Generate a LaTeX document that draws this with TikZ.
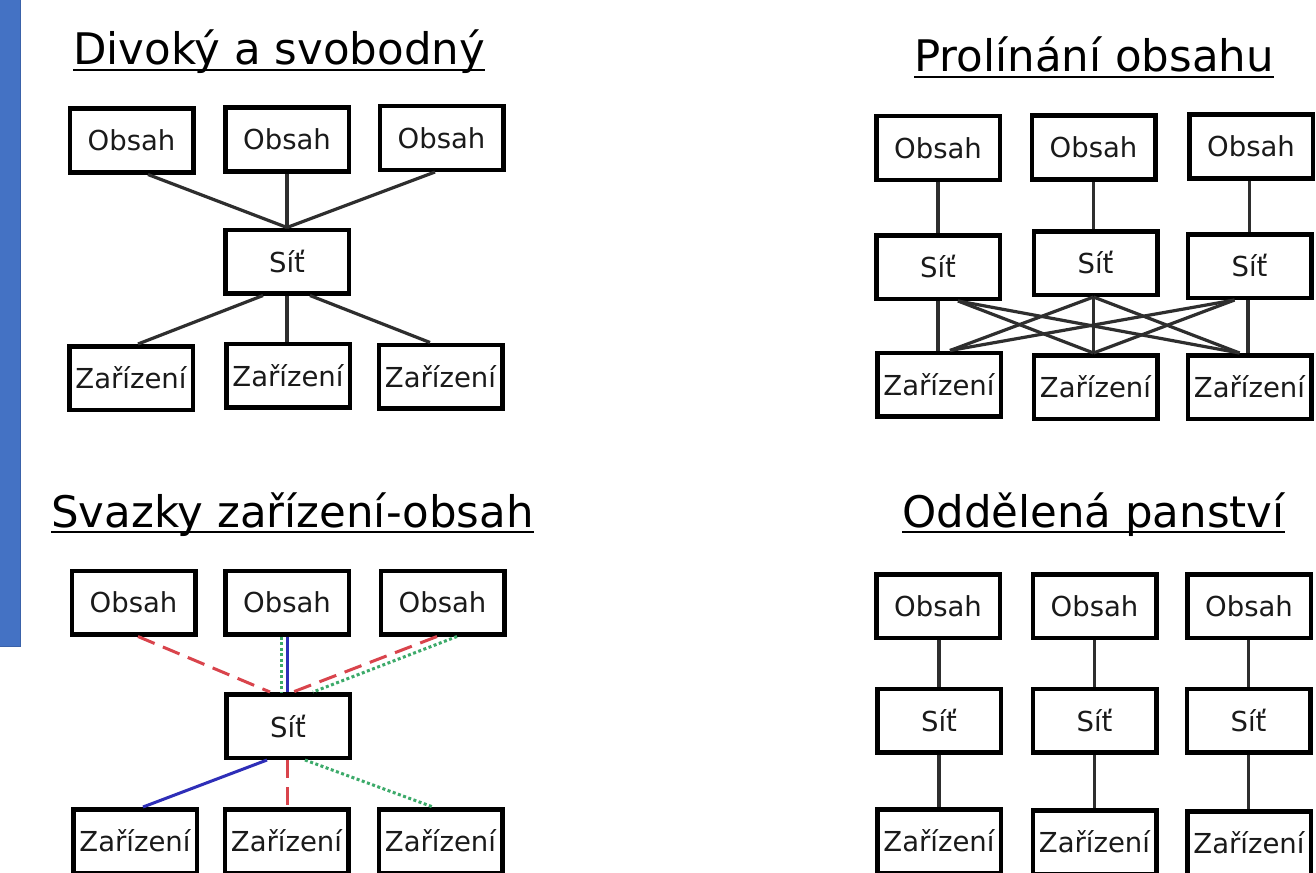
\documentclass[tikz,border=0pt]{standalone}
\usepackage{fontspec}
\newfontfamily\dvsans{DejaVu Sans}
\usetikzlibrary{calc}
\definecolor{barblue}{HTML}{4472C4}
\definecolor{baredge}{HTML}{3A62AA}
\definecolor{ink}{HTML}{1A1A1A}
\definecolor{wire}{HTML}{2E2E2E}
\definecolor{wirered}{HTML}{D9444C}
\definecolor{wireblue}{HTML}{2E2EB8}
\definecolor{wiregreen}{HTML}{3CAA6A}
\newcommand\bxfont{\dvsans\fontsize{27.5}{32}\selectfont}
\newcommand\ttlfont{\dvsans\fontsize{43.5}{50}\selectfont}
\begin{document}
\begin{tikzpicture}[x=1pt,y=-1pt,
  box/.style={draw=black, line width=4.5pt, fill=white, minimum width=123.5pt,
    minimum height=63.5pt, inner sep=0pt, font=\bxfont, text=ink},
  link/.style={draw=wire, line width=3.2pt},
  redlink/.style={draw=wirered, line width=3pt, dash pattern=on 18pt off 9pt},
  bluelink/.style={draw=wireblue, line width=3pt},
  greenlink/.style={draw=wiregreen, line width=3pt, dash pattern=on 3pt off 2.5pt},
  ttl/.style={font=\ttlfont, text=black, anchor=base west, inner sep=0pt},
  uline/.style={draw=black, line width=2.5pt}]

\clip (0,0) rectangle (1316,872);
\fill[white] (0,0) rectangle (1316,872);

% side bar
\fill[barblue] (0,0) rectangle (21,647);
\draw[baredge, line width=1.5pt] (20.25,0) -- (20.25,646.25) -- (0,646.25);

% titles
\node[ttl] (t-a) at (73,65) {Divoký a svobodný};
\node[ttl] (t-b) at (914,72) {Prolínání obsahu};
\node[ttl] (t-c) at (51,527) {Svazky zařízení-obsah};
\node[ttl] (t-d) at (902,527) {Oddělená panství};
\foreach \t in {t-a,t-b,t-c,t-d}
  \draw[uline] ([yshift=-5pt]\t.base west) -- ([yshift=-5pt]\t.base east);

% ---- Divoký a svobodný ----
\node[box] (a-o1) at (131.5,140.5) {Obsah};
\node[box] (a-o2) at (287,139.5) {Obsah};
\node[box] (a-o3) at (441.5,138) {Obsah};
\node[box] (a-s)  at (287,261.5) {Síť};
\node[box] (a-z1) at (131,378) {Zařízení};
\node[box] (a-z2) at (288,375.5) {Zařízení};
\node[box] (a-z3) at (440.5,376.5) {Zařízení};
\draw[link] ([xshift=16.5pt]a-o1.south) -- (a-s.north);
\draw[link] (a-o2.south) -- (a-s.north);
\draw[link] ([xshift=-6.5pt]a-o3.south) -- (a-s.north);
\draw[link] ([xshift=-24pt]a-s.south) -- ([xshift=7pt]a-z1.north);
\draw[link] (a-s.south) -- (a-s.south |- a-z2.north);
\draw[link] ([xshift=23pt]a-s.south) -- ([xshift=-10.5pt]a-z3.north);

% ---- Prolínání obsahu ----
\node[box] (b-o1) at (938,148) {Obsah};
\node[box] (b-o2) at (1093.5,147.5) {Obsah};
\node[box] (b-o3) at (1251,146.5) {Obsah};
\node[box] (b-s1) at (938,267) {Síť};
\node[box] (b-s2) at (1095.5,263) {Síť};
\node[box] (b-s3) at (1249.5,266) {Síť};
\node[box] (b-z1) at (939,384.5) {Zařízení};
\node[box] (b-z2) at (1095.5,387) {Zařízení};
\node[box] (b-z3) at (1249.5,387) {Zařízení};
\draw[link] (b-o1.south) -- (b-s1.north);
\draw[link] (b-o2.south) -- (b-o2.south |- b-s2.north);
\draw[link] (b-o3.south -| b-s3) -- (b-s3.north);
\draw[link] (b-s1.south) -- (b-s1.south |- b-z1.north);
\draw[link] ([xshift=-2pt]b-s2.south) -- ([xshift=-2pt]b-s2.south |- b-z2.north);
\draw[link] ([xshift=-1.5pt]b-s3.south) -- ([xshift=-1.5pt]b-s3.south |- b-z3.north);
\coordinate (bA) at ([xshift=20pt]b-s1.south);
\coordinate (bB) at ([xshift=-2pt]b-s2.south);
\coordinate (bC) at ([xshift=-15pt]b-s3.south);
\coordinate (bD) at ([xshift=11pt]b-z1.north);
\coordinate (bE) at ([xshift=-2pt]b-z2.north);
\coordinate (bF) at ([xshift=-10pt]b-z3.north);
\draw[link] (bA) -- (bE);
\draw[link] (bA) -- (bF);
\draw[link] (bB) -- (bD);
\draw[link] (bB) -- (bF);
\draw[link] (bC) -- (bD);
\draw[link] (bC) -- (bE);

% ---- Svazky zařízení-obsah ----
\node[box] (c-o1) at (133.5,602.5) {Obsah};
\node[box] (c-o2) at (287,602.5) {Obsah};
\node[box] (c-o3) at (442.5,602.5) {Obsah};
\node[box] (c-s)  at (288,726) {Síť};
\node[box] (c-z1) at (135,841) {Zařízení};
\node[box] (c-z2) at (286.5,841) {Zařízení};
\node[box] (c-z3) at (440.5,841) {Zařízení};
\draw[redlink] ([xshift=4.5pt]c-o1.south) -- ([xshift=-18pt]c-s.north);
\draw[greenlink] ([xshift=-6pt]c-o2.south) -- ([xshift=-6pt]c-o2.south |- c-s.north);
\draw[bluelink] (c-o2.south) -- (c-o2.south |- c-s.north);
\draw[redlink] ([xshift=-5.5pt]c-o3.south) -- ([xshift=5pt]c-s.north);
\draw[greenlink] ([xshift=14.5pt]c-o3.south) -- ([xshift=25pt]c-s.north);
\draw[bluelink] ([xshift=-21pt]c-s.south) -- ([xshift=8pt]c-z1.north);
\draw[redlink] ([xshift=-1pt]c-s.south) -- ([xshift=-1pt]c-s.south |- c-z2.north);
\draw[greenlink] ([xshift=17pt]c-s.south) -- ([xshift=-7.5pt]c-z3.north);

% ---- Oddělená panství ----
\node[box] (d-o1) at (938,606) {Obsah};
\node[box] (d-o2) at (1094.5,606) {Obsah};
\node[box] (d-o3) at (1249,606) {Obsah};
\node[box] (d-s1) at (939,720.5) {Síť};
\node[box] (d-s2) at (1094.5,720.5) {Síť};
\node[box] (d-s3) at (1248.5,720.5) {Síť};
\node[box] (d-z1) at (939,841) {Zařízení};
\node[box] (d-z2) at (1094.5,842) {Zařízení};
\node[box] (d-z3) at (1249,843) {Zařízení};
\foreach \k in {1,2,3} {
  \draw[link] (d-o\k.south -| d-s\k) -- (d-s\k.north);
  \draw[link] (d-s\k.south) -- (d-s\k.south |- d-z\k.north);
}
\end{tikzpicture}
\end{document}
